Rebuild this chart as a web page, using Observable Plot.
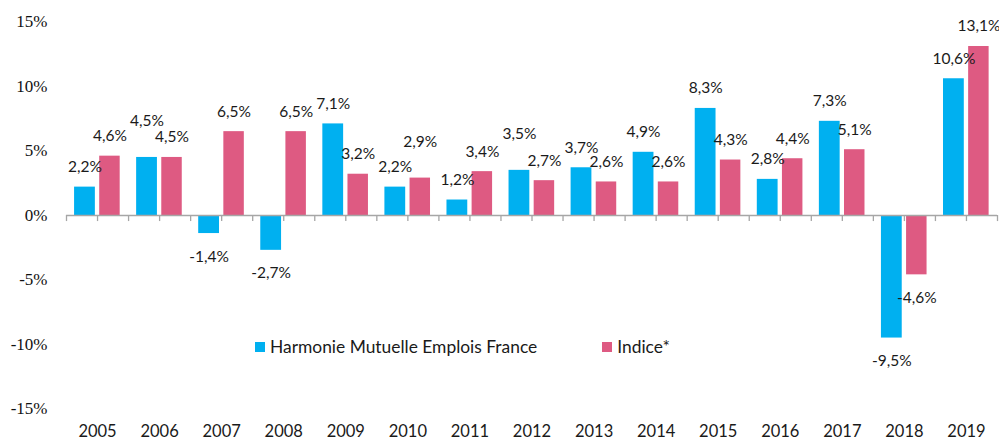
<!DOCTYPE html>
<html>
<head>
<meta charset="utf-8">
<script src="https://cdn.jsdelivr.net/npm/d3@7"></script>
<script src="https://cdn.jsdelivr.net/npm/@observablehq/plot@0.6"></script>
<style>
  html, body { margin: 0; padding: 0; background: #fff; }
  #wrap { position: relative; width: 999px; height: 441px; }
  #legend { position: absolute; left: 255px; top: 336px; font-family: Lato, "Open Sans", sans-serif; font-size: 17.4px; color: #1a1a1a; display: flex; align-items: center; white-space: nowrap; }
  #legend .sw { display: inline-block; width: 10px; height: 10px; margin-right: 5px; }
  #legend .item { display: flex; align-items: center; }
</style>
</head>
<body>
<div id="wrap"><div id="chart"></div><div id="legend"></div></div>
<script>
const years = ["2005","2006","2007","2008","2009","2010","2011","2012","2013","2014","2015","2016","2017","2018","2019"];
const seriesNames = ["Harmonie Mutuelle Emplois France", "Indice*"];
const fundValues  = [2.2, 4.5, -1.4, -2.7, 7.1, 2.2, 1.2, 3.5, 3.7, 4.9, 8.3, 2.8, 7.3, -9.5, 10.6];
const indexValues = [4.6, 4.5, 6.5, 6.5, 3.2, 2.9, 3.4, 2.7, 2.6, 2.6, 4.3, 4.4, 5.1, -4.6, 13.1];
const yTicks = [-15, -10, -5, 0, 5, 10, 15];
const colors = ["#00B0F0", "#DE5A82"];

// bar layout within each year slot (in category units)
const barOffsets = [[-0.37, -0.035], [0.035, 0.365]];

const rows = [];
years.forEach((y, i) => {
  const pair = [fundValues[i], indexValues[i]];
  pair.forEach((v, s) => {
    const other = pair[1 - s];
    // when both labels of a year would collide, raise the label of the taller bar
    const close = v >= 0 && other >= 0 && Math.abs(v - other) < 1;
    const crowded = close && (v > other || (v === other && s === 0));
    rows.push({year: y, i, s, series: seriesNames[s], value: v, crowded,
      x1: i + barOffsets[s][0], x2: i + barOffsets[s][1],
      xc: i + (barOffsets[s][0] + barOffsets[s][1]) / 2});
  });
});
const fmt = v => d3.format(".1f")(v).replace(".", ",").replace("−", "-") + "%";

const tickPos = [];
years.forEach((y, i) => { tickPos.push(i - 0.5, i); });
tickPos.push(years.length - 0.5);

const labelFont = "Lato, 'Open Sans', sans-serif";
const labelStyle = {fontSize: 15.5, fill: "#1a1a1a"};

const chart = Plot.plot({
  width: 999,
  height: 441,
  marginLeft: 66,
  marginRight: 2,
  marginTop: 21.5,
  marginBottom: 32.5,
  style: {fontFamily: labelFont, background: "white"},
  x: {domain: [-0.5, years.length - 0.5]},
  y: {domain: [-15, 15]},
  color: {domain: seriesNames, range: colors},
  marks: [
    Plot.axisY({ticks: yTicks, tickSize: 0, tickPadding: 19, tickFormat: d => d + "%",
      fontFamily: "'Liberation Serif', 'Times New Roman', serif", fontSize: 17, fill: "#111", label: null}),
    Plot.axisX({ticks: d3.range(years.length), tickSize: 0, tickPadding: 16, tickFormat: i => years[i],
      fontSize: 16.5, fill: "#1a1a1a", label: null}),
    Plot.rect(rows, {x1: "x1", x2: "x2", y1: 0, y2: "value", fill: d => colors[d.s]}),
    Plot.ruleY([0], {stroke: "#A6A6A6", strokeWidth: 1.3}),
    Plot.ruleX(tickPos, {x: d => d, y1: 0, y2: -0.47, stroke: "#A6A6A6", strokeWidth: 1.3}),
    Plot.text(rows.filter(d => d.value >= 0 && !d.crowded), {x: "xc", y: "value", text: d => fmt(d.value), dy: -20, ...labelStyle}),
    Plot.text(rows.filter(d => d.value >= 0 && d.crowded), {x: "xc", y: "value", text: d => fmt(d.value), dy: -36, ...labelStyle}),
    Plot.text(rows.filter(d => d.value < 0), {x: "xc", y: "value", text: d => fmt(d.value), dy: 23, ...labelStyle})
  ]
});
document.getElementById("chart").appendChild(chart);

const legend = document.getElementById("legend");
seriesNames.forEach((name, s) => {
  const item = document.createElement("span");
  item.className = "item";
  if (s > 0) item.style.marginLeft = "65px";
  const sw = document.createElement("span");
  sw.className = "sw";
  sw.style.background = colors[s];
  item.appendChild(sw);
  item.appendChild(document.createTextNode(name));
  legend.appendChild(item);
});
</script>
</body>
</html>
